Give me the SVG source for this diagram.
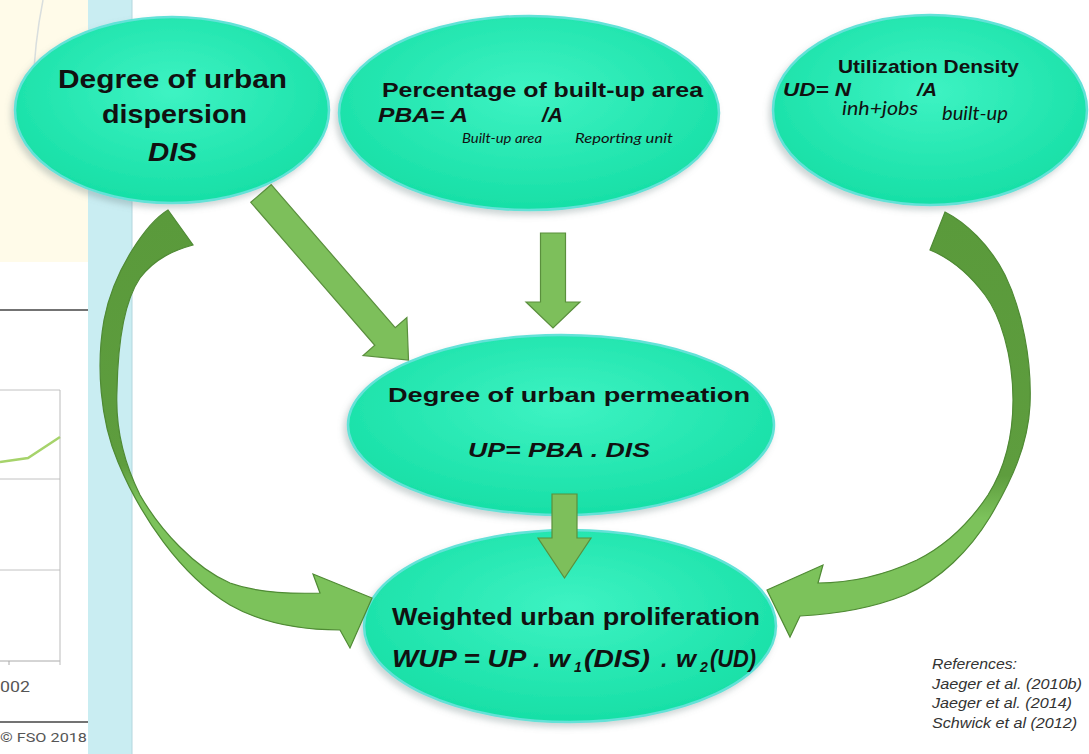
<svg xmlns="http://www.w3.org/2000/svg" width="1089" height="754" viewBox="0 0 1089 754">
<defs>
<style>
.t{font-family:"Liberation Sans",Arial,sans-serif;font-weight:bold;fill:#111}
.ti{font-family:"Liberation Sans",Arial,sans-serif;font-weight:bold;font-style:italic;fill:#111}
.sub{font-family:Lato,"Liberation Sans",sans-serif;font-style:italic;fill:#111}
.ref{font-family:"Liberation Sans",Arial,sans-serif;font-style:italic;fill:#333;font-size:14.5px}
.node{fill:url(#eg);stroke:#63e2d8;stroke-width:2.5;filter:url(#sh)}
.arr{fill:#7dbf5b;stroke:#5a8f3d;stroke-width:1.2}
.chart{font-family:Roboto,"Liberation Sans",sans-serif;fill:#555}
</style>
<radialGradient id="eg" cx="50%" cy="40%" r="60%">
<stop offset="0" stop-color="#3ef3c3"/>
<stop offset="1" stop-color="#17dfa6"/>
</radialGradient>
<linearGradient id="gl" gradientUnits="userSpaceOnUse" x1="0" y1="210" x2="0" y2="650">
<stop offset="0" stop-color="#5a9a3b"/>
<stop offset="0.58" stop-color="#5e9d3e"/>
<stop offset="0.66" stop-color="#7cc25b"/>
<stop offset="1" stop-color="#7cc25b"/>
</linearGradient>
<linearGradient id="gr" gradientUnits="userSpaceOnUse" x1="0" y1="212" x2="0" y2="637">
<stop offset="0" stop-color="#5a9a3b"/>
<stop offset="0.62" stop-color="#5e9d3e"/>
<stop offset="0.72" stop-color="#7cc25b"/>
<stop offset="1" stop-color="#7cc25b"/>
</linearGradient>
<filter id="sh" x="-10%" y="-10%" width="120%" height="130%">
<feDropShadow dx="-3" dy="4" stdDeviation="3" flood-color="#6f8585" flood-opacity="0.35"/>
</filter>
</defs>
<rect width="1089" height="754" fill="#ffffff"/>
<g id="background">
<rect x="88" y="0" width="44" height="754" fill="#c9edf2"/>
<line x1="132" y1="0" x2="132" y2="754" stroke="#b3d6de" stroke-width="1"/>
<rect x="0" y="0" width="88" height="262" fill="#fffbe9"/>
<path d="M43,0 C38,25 34,55 33,90" fill="none" stroke="#d9dede" stroke-width="1.5"/>
<rect x="0" y="262" width="88" height="492" fill="#ffffff"/>
<line x1="0" y1="310" x2="88" y2="310" stroke="#444" stroke-width="1.5"/>
<line x1="0" y1="390" x2="60" y2="390" stroke="#c2c2c2" stroke-width="1"/>
<line x1="0" y1="479" x2="60" y2="479" stroke="#c2c2c2" stroke-width="1"/>
<line x1="0" y1="570" x2="60" y2="570" stroke="#c2c2c2" stroke-width="1"/>
<line x1="0" y1="661" x2="60" y2="661" stroke="#aaa" stroke-width="1"/>
<line x1="60" y1="390" x2="60" y2="665" stroke="#bbb" stroke-width="1"/>
<line x1="9" y1="661" x2="9" y2="665" stroke="#aaa" stroke-width="1"/>
<polyline points="0,462 28,458 60,437" fill="none" stroke="#a6d36b" stroke-width="2.5"/>
<text class="chart" x="0" y="692" font-size="15" textLength="30" lengthAdjust="spacingAndGlyphs">002</text>
<line x1="0" y1="722" x2="88" y2="722" stroke="#444" stroke-width="1.5"/>
<text class="chart" x="0" y="742" font-size="13" fill="#666" textLength="87" lengthAdjust="spacingAndGlyphs">© FSO 2018</text>
</g>
<g id="node-dis">
<ellipse class="node" cx="172" cy="110" rx="157" ry="93"/>
<text class="t" x="58" y="88" font-size="25" textLength="229" lengthAdjust="spacingAndGlyphs">Degree of urban</text>
<text class="t" x="102" y="123" font-size="25" textLength="145" lengthAdjust="spacingAndGlyphs">dispersion</text>
<text class="ti" x="148" y="161" font-size="25" textLength="49" lengthAdjust="spacingAndGlyphs">DIS</text>
</g>
<g id="node-pba">
<ellipse class="node" cx="529" cy="113" rx="190" ry="97"/>
<text class="t" x="382" y="97" font-size="19.5" textLength="321" lengthAdjust="spacingAndGlyphs">Percentage of built-up area</text>
<text class="ti" x="378" y="122" font-size="19.5" textLength="90" lengthAdjust="spacingAndGlyphs">PBA= A</text>
<text class="ti" x="542" y="122" font-size="19.5" textLength="21" lengthAdjust="spacingAndGlyphs">/A</text>
<text class="sub" x="462" y="143" font-size="12.5" textLength="80" lengthAdjust="spacingAndGlyphs">Built-up area</text>
<text class="sub" x="575" y="143" font-size="12.5" textLength="98" lengthAdjust="spacingAndGlyphs">Reporting unit</text>
</g>
<g id="node-ud">
<ellipse class="node" cx="930" cy="110" rx="157" ry="95"/>
<text class="t" x="838" y="73" font-size="18.5" textLength="181" lengthAdjust="spacingAndGlyphs">Utilization Density</text>
<text class="ti" x="783" y="96" font-size="18.5" textLength="68" lengthAdjust="spacingAndGlyphs">UD= N</text>
<text class="ti" x="917" y="96" font-size="18.5" textLength="20" lengthAdjust="spacingAndGlyphs">/A</text>
<text class="sub" x="842" y="115" font-size="19" textLength="76" lengthAdjust="spacingAndGlyphs">inh+jobs</text>
<text class="sub" x="942" y="120" font-size="19" textLength="66" lengthAdjust="spacingAndGlyphs">built-up</text>
</g>
<g id="node-up">
<ellipse class="node" cx="561" cy="425" rx="213" ry="90"/>
<text class="t" x="388" y="402" font-size="21" textLength="362" lengthAdjust="spacingAndGlyphs">Degree of urban permeation</text>
<text class="ti" x="468" y="457" font-size="21" textLength="182" lengthAdjust="spacingAndGlyphs">UP= PBA . DIS</text>
</g>
<g id="node-wup">
<ellipse class="node" cx="570" cy="626" rx="206" ry="96"/>
<text class="t" x="392" y="625" font-size="23" textLength="368" lengthAdjust="spacingAndGlyphs">Weighted urban proliferation</text>
<text class="ti" x="392" y="667" font-size="23" textLength="178" lengthAdjust="spacingAndGlyphs">WUP = UP . w</text>
<text class="ti" x="574" y="672" font-size="14">1</text>
<text class="ti" x="584" y="667" font-size="23" textLength="66" lengthAdjust="spacingAndGlyphs">(DIS)</text>
<text class="ti" x="661" y="667" font-size="23">.</text>
<text class="ti" x="676" y="667" font-size="23" textLength="20" lengthAdjust="spacingAndGlyphs">w</text>
<text class="ti" x="700" y="672" font-size="14">2</text>
<text class="ti" x="710" y="667" font-size="23" textLength="46" lengthAdjust="spacingAndGlyphs">(UD)</text>
</g>
<g id="connectors">
<polygon class="arr" points="250.8,202.3 271.2,184.7 395.2,327.7 406.9,317.5 408.5,360 363.1,355.5 374.8,345.3"/>
<polygon class="arr" points="540.5,233 565.5,233 565.5,302 580,302 553,328 526,302 540.5,302"/>
<polygon class="arr" points="552,494 577,494 577,538 591,538 564.5,578 538,538 552,538"/>
<path fill="url(#gl)" stroke="#4f8a34" stroke-width="1.2" d="M168,210 C148,222 114,268 104,320 C96,365 100,420 118,462 C140,515 180,575 230,605 C265,625 305,630 340,630 L350,648 L372,598 L313,574 L320,593 C290,594 255,592 230,583 C195,568 160,530 140,495 C125,465 115,430 117,390 C118,340 125,300 140,278 C155,258 175,250 193,245 Z"/>
<path fill="url(#gr)" stroke="#4f8a34" stroke-width="1.2" d="M945,212 C965,222 990,245 1005,275 C1022,310 1032,360 1030,405 C1028,445 1012,480 990,517 C970,550 940,580 905,595 C875,607 840,614 800,616 L790,637 L767,590 L823,565 L818,583 C850,583 885,575 917,560 C945,546 970,522 988,495 C1005,468 1013,435 1013,400 C1013,355 1000,315 985,295 C970,275 950,258 930,250 Z"/>
</g>
<g id="references">
<text class="ref" x="932" y="669" textLength="85" lengthAdjust="spacingAndGlyphs">References:</text>
<text class="ref" x="932" y="689" textLength="150" lengthAdjust="spacingAndGlyphs">Jaeger et al. (2010b)</text>
<text class="ref" x="932" y="708" textLength="140" lengthAdjust="spacingAndGlyphs">Jaeger et al. (2014)</text>
<text class="ref" x="932" y="728" textLength="145" lengthAdjust="spacingAndGlyphs">Schwick et al (2012)</text>
</g>
</svg>
